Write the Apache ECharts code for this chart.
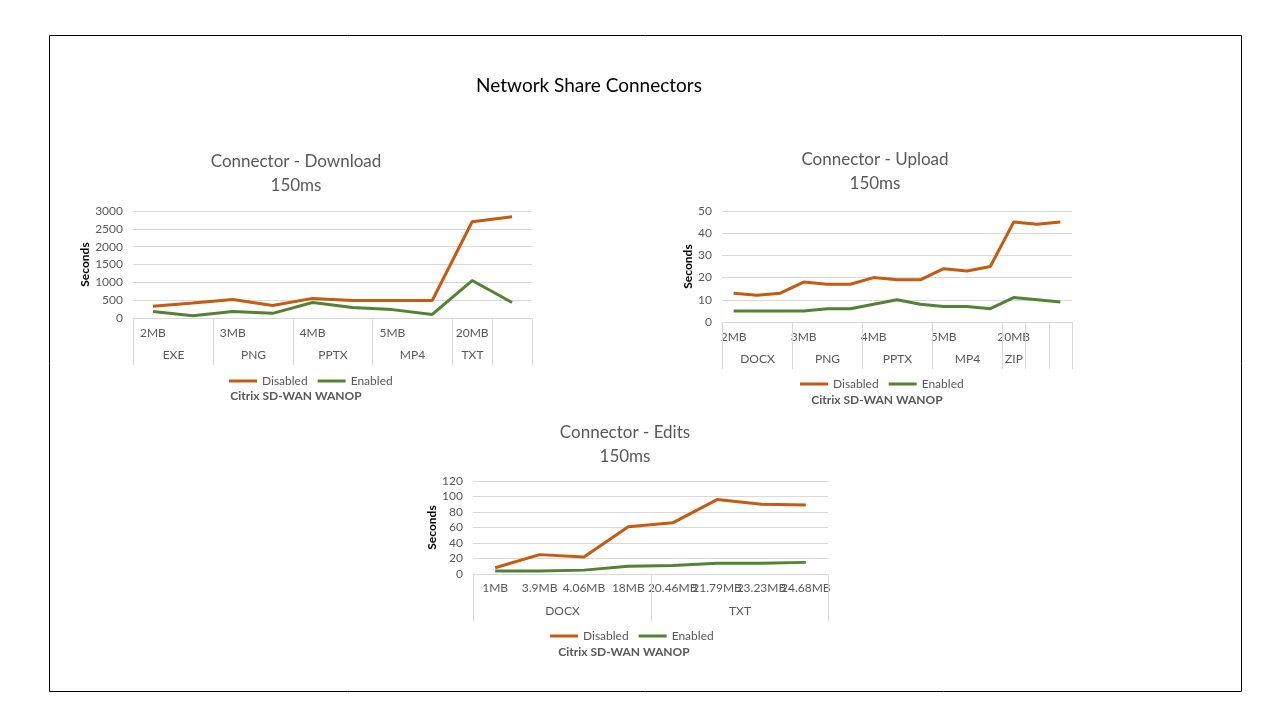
<!DOCTYPE html>
<html>
<head>
<meta charset="utf-8">
<script src="https://cdn.jsdelivr.net/npm/echarts@6/dist/echarts.min.js"></script>
<style>html,body{margin:0;padding:0;background:#fff}#c{width:1280px;height:720px}</style>
</head>
<body>
<div id="c"></div>
<script>
// ---- Download ----
const dlSizes = ['2MB', '', '3MB', '', '4MB', '', '5MB', '', '20MB', ''];
const dlGroups = ['EXE', 'PNG', 'PPTX', 'MP4', 'TXT', ''];
const dlGroupCounts = [2, 2, 2, 2, 1, 1];
const dlDisabled = [330, 420, 520, 350, 550, 490, 490, 490, 2700, 2840];
const dlEnabled = [180, 65, 180, 130, 435, 295, 235, 100, 1050, 435];

// ---- Upload ----
const upSizes = ['2MB', '', '', '3MB', '', '', '4MB', '', '', '5MB', '', '', '20MB', '', ''];
const upGroups = ['DOCX', 'PNG', 'PPTX', 'MP4', 'ZIP', '', ''];
const upGroupCounts = [3, 3, 3, 3, 1, 1, 1];
const upDisabled = [13, 12, 13, 18, 17, 17, 20, 19, 19, 24, 23, 25, 45, 44, 45];
const upEnabled = [5, 5, 5, 5, 6, 6, 8, 10, 8, 7, 7, 6, 11, 10, 9];

// ---- Edits ----
const edSizes = ['1MB', '3.9MB', '4.06MB', '18MB', '20.46MB', '21.79MB', '23.23MB', '24.68MB'];
const edGroups = ['DOCX', 'TXT'];
const edGroupCounts = [4, 4];
const edDisabled = [8, 25, 22, 61, 66, 96, 90, 89];
const edEnabled = [4, 4, 5, 10, 11, 14, 14, 15];

const seriesNames = ['Disabled', 'Enabled'];
const xAxisTitle = 'Citrix SD-WAN WANOP';
const yAxisTitle = 'Seconds';

const ORANGE = '#C55A11', GREEN = '#548235', GRID = '#d9d9d9', TXT = '#595959';
const FONT = 'Lato, "Liberation Sans", sans-serif';

function spans(counts) {
  const out = []; let s = 0;
  counts.forEach(c => { out.push([s, s + c - 1]); s += c; });
  return out;
}

function groupSeries(idx, names, counts) {
  return {
    type: 'custom', xAxisIndex: idx, yAxisIndex: idx, clip: false, silent: true,
    data: spans(counts),
    encode: { x: 0 },
    renderItem: function (params, api) {
      const s = api.value(0), e = api.value(1);
      const bw = api.size([1, 0])[0];
      const p0 = api.coord([s, 0]), p1 = api.coord([e, 0]);
      const x0 = Math.round(p0[0] - bw / 2) + 0.5, x1 = Math.round(p1[0] + bw / 2) + 0.5, y = p0[1];
      return {
        type: 'group', children: [
          { type: 'line', shape: { x1: x0, y1: y, x2: x0, y2: y + 47 }, style: { stroke: GRID, lineWidth: 1 } },
          { type: 'line', shape: { x1: x1, y1: y, x2: x1, y2: y + 47 }, style: { stroke: GRID, lineWidth: 1 } },
          { type: 'text', x: (x0 + x1) / 2, y: y + 37, style: { text: names[params.dataIndex], align: 'center', verticalAlign: 'middle', fill: TXT, font: '12px ' + FONT } }
        ]
      };
    }
  };
}

function xAx(idx, sizes, margin) {
  return {
    type: 'category', gridIndex: idx, data: sizes.map((s, i) => i),
    axisLine: { show: true, lineStyle: { color: GRID } },
    axisTick: { show: false },
    axisLabel: { interval: 0, hideOverlap: false, margin: margin, color: TXT, fontSize: 12, fontFamily: FONT,
      formatter: (v, i) => sizes[i] },
    splitLine: { show: false }
  };
}
function yAx(idx, max, interval, gap) {
  return {
    type: 'value', gridIndex: idx, min: 0, max: max, interval: interval,
    name: yAxisTitle, nameLocation: 'middle', nameGap: gap, nameRotate: 90,
    nameTextStyle: { fontWeight: 'bold', fontSize: 12, color: '#000', fontFamily: FONT },
    axisLine: { show: false }, axisTick: { show: false },
    axisLabel: { color: TXT, fontSize: 12, fontFamily: FONT, margin: 10, formatter: v => String(v) },
    splitLine: { lineStyle: { color: GRID, width: 1 } }
  };
}
function lines(idx, dis, en) {
  return [
    { name: seriesNames[0], type: 'line', xAxisIndex: idx, yAxisIndex: idx, data: dis, symbol: 'none', lineStyle: { width: 3, color: ORANGE }, itemStyle: { color: ORANGE } },
    { name: seriesNames[1], type: 'line', xAxisIndex: idx, yAxisIndex: idx, data: en, symbol: 'none', lineStyle: { width: 3, color: GREEN }, itemStyle: { color: GREEN } }
  ];
}
function legend(left, top) {
  return {
    data: seriesNames, left: left, top: top, padding: 0, itemGap: 10,
    icon: 'rect', itemWidth: 28, itemHeight: 3,
    textStyle: { color: TXT, fontSize: 12, fontFamily: FONT }
  };
}
function ttl(text, x, top, opts) {
  return Object.assign({
    text: text, left: x, top: top, textAlign: 'center', padding: 0,
    textStyle: { color: TXT, fontSize: 17, fontWeight: 'normal', fontFamily: FONT, lineHeight: 24 }
  }, opts || {});
}
const boldSmall = { textStyle: { color: TXT, fontSize: 12, fontWeight: 'bold', fontFamily: FONT, lineHeight: 14 } };

const chart = echarts.init(document.getElementById('c'), null, { renderer: 'canvas' });
chart.setOption({
  backgroundColor: '#fff',
  animation: false,
  title: [
    ttl('Network Share Connectors', 589, 75, { textStyle: { color: '#000', fontSize: 19, fontWeight: 'normal', fontFamily: FONT, lineHeight: 22 } }),
    ttl('Connector - Download\n150ms', 296, 150),
    ttl('Connector - Upload\n150ms', 875, 148),
    ttl('Connector - Edits\n150ms', 625, 421),
    ttl(xAxisTitle, 296, 389, boldSmall),
    ttl(xAxisTitle, 877, 393, boldSmall),
    ttl(xAxisTitle, 624, 645, boldSmall)
  ],
  legend: [legend(229, 375), legend(800, 378), legend(550, 630)],
  grid: [
    { left: 133, top: 211, width: 399, height: 107 },
    { left: 722, top: 211, width: 350, height: 111 },
    { left: 473, top: 481, width: 355, height: 93 }
  ],
  xAxis: [xAx(0, dlSizes, 9), xAx(1, upSizes, 9), xAx(2, edSizes, 8)],
  yAxis: [yAx(0, 3000, 500, 40), yAx(1, 50, 10, 28), yAx(2, 120, 20, 35)],
  series: [].concat(
    lines(0, dlDisabled, dlEnabled),
    lines(1, upDisabled, upEnabled),
    lines(2, edDisabled, edEnabled),
    [groupSeries(0, dlGroups, dlGroupCounts), groupSeries(1, upGroups, upGroupCounts), groupSeries(2, edGroups, edGroupCounts)]
  ),
  graphic: [
    { type: 'rect', shape: { x: 49.5, y: 35.5, width: 1192, height: 656 }, style: { fill: 'none', stroke: '#000', lineWidth: 1 }, silent: true, z: -1 }
  ]
});
</script>
</body>
</html>
